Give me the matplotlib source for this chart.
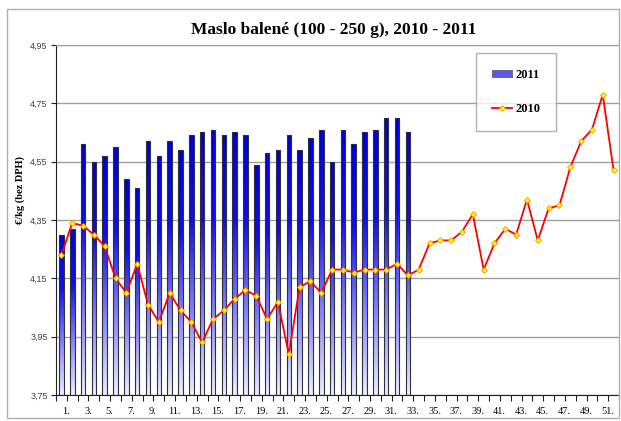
import matplotlib
matplotlib.use("Agg")
import matplotlib.pyplot as plt
from matplotlib.patches import Rectangle, Patch
from matplotlib.lines import Line2D
from matplotlib.colors import LinearSegmentedColormap
import matplotlib.transforms as mtransforms
import numpy as np

# ceny masla po tyzdnoch (EUR/kg bez DPH)
tyzdne = list(range(1, 53))
ceny_2011 = [4.30, 4.32, 4.61, 4.55, 4.57, 4.60, 4.49, 4.46, 4.62, 4.57, 4.62, 4.59,
             4.64, 4.65, 4.66, 4.64, 4.65, 4.64, 4.54, 4.58, 4.59, 4.64, 4.59, 4.63,
             4.66, 4.55, 4.66, 4.61, 4.65, 4.66, 4.70, 4.70, 4.65]
ceny_2010 = [4.23, 4.34, 4.33, 4.30, 4.26, 4.15, 4.10, 4.20, 4.06, 4.00, 4.10, 4.04,
             4.00, 3.93, 4.01, 4.04, 4.08, 4.11, 4.09, 4.01, 4.07, 3.89, 4.12, 4.14,
             4.10, 4.18, 4.18, 4.17, 4.18, 4.18, 4.18, 4.20, 4.16, 4.18, 4.27, 4.28,
             4.28, 4.31, 4.37, 4.18, 4.27, 4.32, 4.30, 4.42, 4.28, 4.39, 4.40, 4.53,
             4.62, 4.66, 4.78, 4.52]
y_ticky = [3.75, 3.95, 4.15, 4.35, 4.55, 4.75, 4.95]
x_popisy = [f"{t}." for t in tyzdne[::2]]
nazov = "Maslo balené (100 - 250 g), 2010 - 2011"
y_nazov = "€/kg (bez DPH)"

W, H = 621, 421
fig = plt.figure(figsize=(W / 100, H / 100), dpi=100)
fig.patch.set_facecolor("white")
# ramik okolo celeho grafu
fig.patches.append(Rectangle((7 / W, 3 / H), 612 / W, 409 / H, transform=fig.transFigure,
                             fill=False, edgecolor="#b0b0b0", lw=1))

ax = fig.add_axes([56 / W, 26 / H, 563 / W, 350 / H])
ax.set_facecolor("white")

dno = y_ticky[0]
x11 = np.arange(len(ceny_2011))
x10 = np.arange(len(ceny_2010))

stlpce = ax.bar(x11, np.array(ceny_2011) - dno, bottom=dno, width=0.42,
                facecolor="none", edgecolor="#30303c", lw=0.8, zorder=3)

# gradient v stlpcoch (tmavomodra hore, svetla dole)
cmap = LinearSegmentedColormap.from_list("modra", ["#eeeeff", "#8080ff", "#1010e8", "#0000d8"])
grad = np.linspace(0, 1, 256).reshape(-1, 1)
for r in stlpce:
    x0, y0 = r.get_xy()
    im = ax.imshow(grad, extent=(x0, x0 + r.get_width(), y0, y0 + r.get_height()),
                   aspect="auto", cmap=cmap, origin="lower", zorder=2)
    im.set_clip_path(r)

ax.plot(x10, ceny_2010, color="#ff0000", lw=1.3, marker="D", ms=3,
        mfc="#ffff00", mec="#ff8c00", mew=0.6, zorder=5)

ax.set_xlim(-0.5, len(tyzdne) - 0.5)
ax.set_ylim(y_ticky[0], y_ticky[-1])

ax.set_yticks(y_ticky)
ax.set_yticklabels([f"{v:.2f}".replace(".", ",") for v in y_ticky],
                   fontsize=6.5, color="#404040", family="Liberation Sans")
ax.tick_params(axis="y", length=3.5, width=0.8, color="#202020", pad=2.5)
ax.yaxis.grid(True, color="#a0a096", lw=1)
ax.set_axisbelow(True)

# hlavne ticky medzi kategoriami, popisy na kazdej druhej
ax.set_xticks(np.arange(-0.5, len(tyzdne), 1))
ax.set_xticklabels([])
ax.tick_params(axis="x", which="major", length=4, width=0.8, color="#202020")
ax.set_xticks(x10[::2], x_popisy, minor=True)
ax.tick_params(axis="x", which="minor", length=0, pad=9)
posun = mtransforms.ScaledTranslation(5 / 100, 0, fig.dpi_scale_trans)
for t in ax.get_xticklabels(minor=True):
    t.set_fontsize(7.5)
    t.set_family("Liberation Serif")
    t.set_transform(t.get_transform() + posun)

ax.spines["right"].set_visible(False)
ax.spines["top"].set_color("#a0a096")
ax.spines["left"].set_color("#202020")
ax.spines["bottom"].set_color("#202020")

fig.text(334 / W, 1 - 30 / H, nazov, ha="center", va="center", fontsize=12.5,
         fontweight="bold", family="Liberation Serif")
fig.text(20 / W, 1 - 190 / H, y_nazov, ha="center", va="center", rotation=90,
         fontsize=7.5, fontweight="bold", family="Liberation Serif")

ruky = [Patch(facecolor="#5858f0", edgecolor="#606070", lw=0.6),
        Line2D([], [], color="#ff0000", lw=1.3, marker="D", ms=3,
               mfc="#ffff00", mec="#ff8c00", mew=0.6)]
leg = fig.legend(ruky, ["2011", "2010"], loc="upper left",
                 bbox_to_anchor=(476 / W, 1 - 53 / H), frameon=True, fancybox=False,
                 prop={"family": "Liberation Serif", "weight": "bold", "size": 9},
                 handlelength=1.6, handleheight=0.5, handletextpad=0.3,
                 labelspacing=1.8, borderpad=1.25, borderaxespad=0)
leg.get_frame().set_edgecolor("#a0a0a0")
leg.get_frame().set_linewidth(1)

fig.savefig("out.png", dpi=100)
